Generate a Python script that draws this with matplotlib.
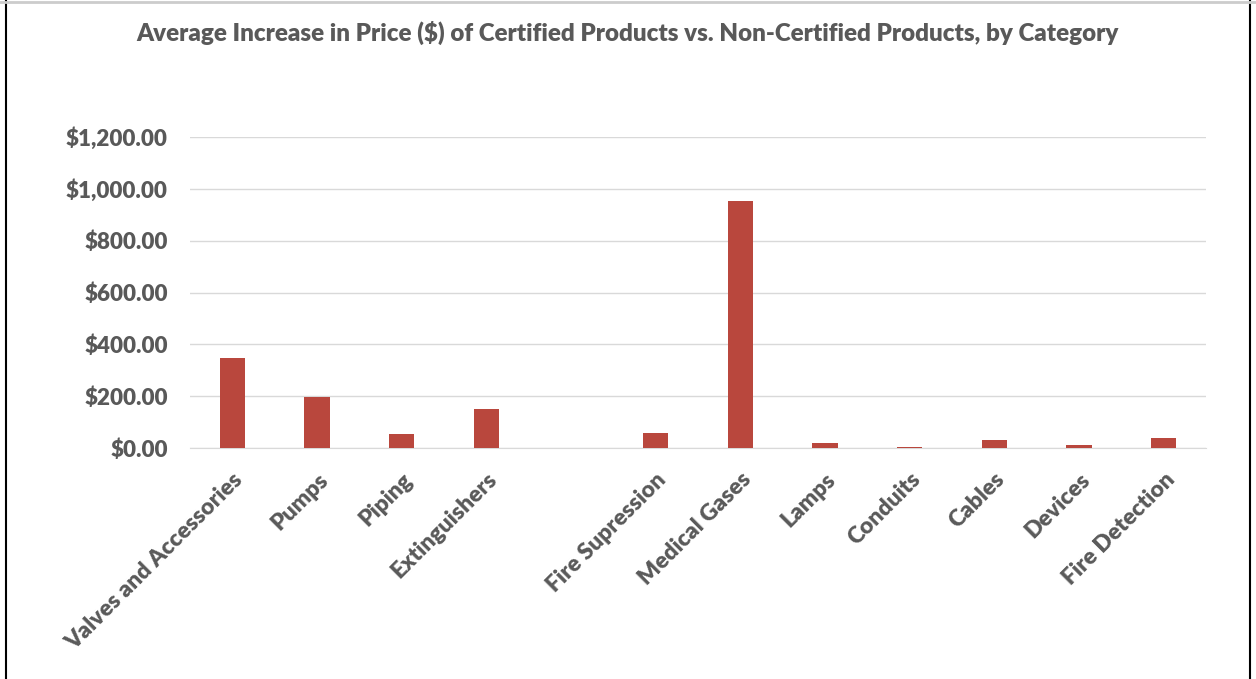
import matplotlib
matplotlib.use("Agg")
import matplotlib.pyplot as plt
from matplotlib.ticker import FuncFormatter

categories = ["Valves and Accessories", "Pumps", "Piping", "Extinguishers", "",
              "Fire Supression", "Medical Gases", "Lamps", "Conduits", "Cables",
              "Devices", "Fire Detection"]
values = [347, 198, 54, 150, 0, 58, 952, 20, 2, 30, 11, 38]
yticks = [0, 200, 400, 600, 800, 1000, 1200]

plt.rcParams['font.family'] = ['Lato', 'DejaVu Sans']
txt = '#595959'

fig = plt.figure(figsize=(12.56, 6.79), dpi=100)
ax = fig.add_axes([190/1256, 1-448/679, 1016/1256, 311/679])
x = list(range(len(categories)))
ax.bar(x, values, width=0.3, color='#B9473D', zorder=3)
ax.set_xlim(-0.5, len(categories)-0.5)
ax.set_ylim(0, 1200)
ax.set_yticks(yticks)
ax.yaxis.set_major_formatter(FuncFormatter(lambda v, p: f"${v:,.2f}"))
ax.grid(axis='y', color='#D9D9D9', linewidth=1, zorder=0)
for s in ['top', 'right', 'left']:
    ax.spines[s].set_visible(False)
ax.spines['bottom'].set_color('#D9D9D9')
ax.tick_params(axis='y', length=0, colors=txt, labelsize=16.1, pad=16)
for lbl in ax.get_yticklabels():
    lbl.set_fontweight('heavy')
ax.set_xticks(x)
ax.set_xticklabels(categories, rotation=45, ha='right', rotation_mode='anchor',
                   fontsize=16.5, fontweight='heavy', color=txt)
ax.tick_params(axis='x', length=0, pad=15)

fig.text(0.5, 1-33/679, "Average Increase in Price ($) of Certified Products vs. Non-Certified Products, by Category",
         ha='center', va='center', fontsize=17.4, fontweight='heavy', color=txt)

# frame lines
fig.add_artist(plt.Line2D([6/1256, 6/1256], [0, 1], color='black', linewidth=1.5, transform=fig.transFigure))
fig.add_artist(plt.Line2D([1250/1256, 1250/1256], [0, 1], color='black', linewidth=1.5, transform=fig.transFigure))
fig.add_artist(plt.Line2D([0, 1], [1-1.5/679, 1-1.5/679], color='#CCCCCC', linewidth=2, transform=fig.transFigure))

fig.savefig("out.png", dpi=100)
